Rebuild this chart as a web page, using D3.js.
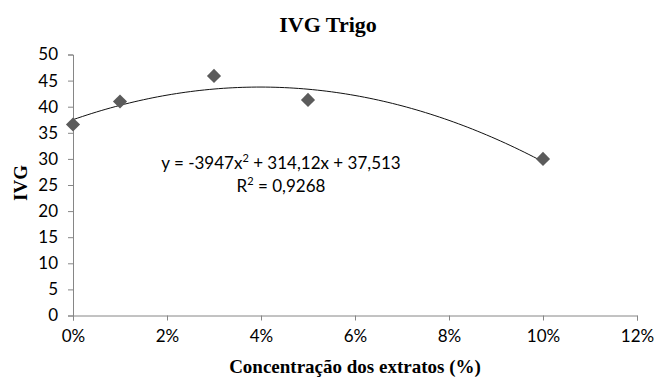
<!DOCTYPE html>
<html>
<head>
<meta charset="utf-8">
<script src="https://cdn.jsdelivr.net/npm/d3@7"></script>
<style>
  html, body { margin: 0; padding: 0; background: #fff; }
  svg { display: block; }
</style>
</head>
<body>
<svg id="chart" width="655" height="380"></svg>
<script>
// Germination speed index (IVG) for wheat by extract concentration
const concentrations = [0, 0.01, 0.03, 0.05, 0.10];
const ivgValues = [36.6, 41.0, 45.9, 41.3, 30.0];
const xTicks = [0, 0.02, 0.04, 0.06, 0.08, 0.10, 0.12];
const yTicks = [0, 5, 10, 15, 20, 25, 30, 35, 40, 45, 50];
// Polynomial trend line coefficients (a x^2 + b x + c)
const trendCoef = [-3947, 314.12, 37.513];
const equationText = ["y = -3947x", "2", " + 314,12x + 37,513"];
const r2Text = "0,9268";

const svg = d3.select("#chart");
const W = 655, H = 380;

const x = d3.scaleLinear().domain([0, 0.12]).range([73, 637]);
const y = d3.scaleLinear().domain([0, 50]).range([315.5, 54.5]);

const axisColor = "#868686";
const tickFont = "Lato, 'Open Sans', sans-serif";
const serif = "'Liberation Serif', 'Times New Roman', serif";

// Y axis
const yAxis = svg.append("g")
  .attr("transform", `translate(${x(0)},0)`)
  .call(d3.axisLeft(y).tickValues(yTicks).tickSize(5).tickPadding(10).tickFormat(d3.format("d")));
yAxis.select(".domain").attr("stroke", axisColor);
yAxis.selectAll(".tick line").attr("stroke", axisColor);
yAxis.selectAll("text").attr("fill", "#000").style("font-family", tickFont).style("font-size", "17px");

// X axis
const xAxis = svg.append("g")
  .attr("transform", `translate(0,${y(0)})`)
  .call(d3.axisBottom(x).tickValues(xTicks).tickSize(5).tickPadding(9).tickFormat(d3.format(".0%")));
xAxis.select(".domain").attr("stroke", axisColor);
xAxis.selectAll(".tick line").attr("stroke", axisColor);
xAxis.selectAll("text").attr("fill", "#000").style("font-family", tickFont).style("font-size", "17px");

// Trend line
const trendX = d3.range(0, 0.1 + 1e-9, 0.001);
const trend = d3.line()
  .x(d => x(d))
  .y(d => y(trendCoef[0] * d * d + trendCoef[1] * d + trendCoef[2]));
svg.append("path")
  .datum(trendX)
  .attr("d", trend)
  .attr("fill", "none")
  .attr("stroke", "#111")
  .attr("stroke-width", 1);

// Data markers (diamonds)
const diamond = d3.symbol().type(d3.symbolSquare).size(100);
svg.append("g").selectAll("path")
  .data(concentrations.map((c, i) => [c, ivgValues[i]]))
  .join("path")
  .attr("d", diamond)
  .attr("transform", d => `translate(${x(d[0])},${y(d[1])}) rotate(45)`)
  .attr("fill", "#5b5b5b");

// Title
svg.append("text")
  .attr("x", 328).attr("y", 32)
  .attr("text-anchor", "middle")
  .style("font-family", serif).style("font-weight", "bold").style("font-size", "22px")
  .text("IVG Trigo");

// Axis titles
svg.append("text")
  .attr("x", 355).attr("y", 373)
  .attr("text-anchor", "middle")
  .style("font-family", serif).style("font-weight", "bold").style("font-size", "19px")
  .text("Concentração dos extratos (%)");

svg.append("text")
  .attr("transform", "translate(27,183) rotate(-90)")
  .attr("text-anchor", "middle")
  .style("font-family", serif).style("font-weight", "bold").style("font-size", "19px")
  .text("IVG");

// Trend equation and R²
const eq = svg.append("text")
  .attr("x", 281).attr("y", 169)
  .attr("text-anchor", "middle")
  .style("font-family", tickFont).style("font-size", "17px");
eq.append("tspan").text(equationText[0]);
eq.append("tspan").attr("dy", -7).style("font-size", "11px").text(equationText[1]);
eq.append("tspan").attr("dy", 7).text(equationText[2]);

const r2 = svg.append("text")
  .attr("x", 281).attr("y", 192)
  .attr("text-anchor", "middle")
  .style("font-family", tickFont).style("font-size", "17px");
r2.append("tspan").text("R");
r2.append("tspan").attr("dy", -7).style("font-size", "11px").text("2");
r2.append("tspan").attr("dy", 7).text(" = " + r2Text);
</script>
</body>
</html>
